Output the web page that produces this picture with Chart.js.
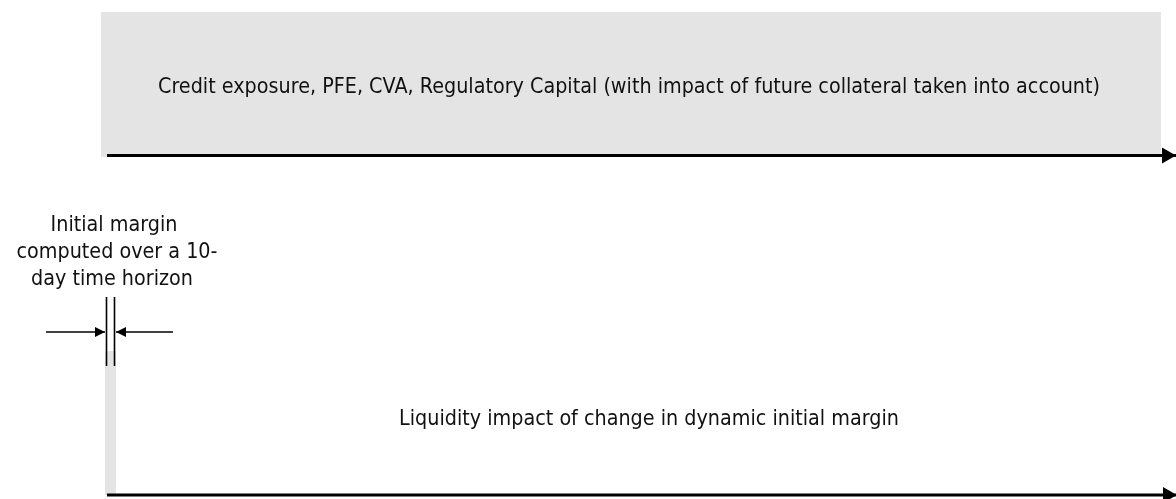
<!DOCTYPE html>
<html>
<head>
<meta charset="utf-8">
<script src="https://cdn.jsdelivr.net/npm/chart.js@4.4.1/dist/chart.umd.min.js"></script>
<style>
  html, body { margin: 0; padding: 0; background: #fff; }
  #wrap { width: 1176px; height: 499px; }
</style>
</head>
<body>
<div id="wrap"><canvas id="diagram" width="1176" height="499"></canvas></div>
<script>
// ---------------------------------------------------------------
// diagram values (x = horizontal units, y = vertical units, 1:1 with the plot)
// ---------------------------------------------------------------
const boxNames  = ['exposure band', 'initial margin band'];
const boxX0     = [101, 105];
const boxX1     = [1161, 116];
const boxY0     = [12, 351];
const boxY1     = [157, 495];

// arrows / lines: [from, to]
const lineNames = ['exposure axis', 'liquidity axis', 'horizon start', 'horizon end', 'left pointer', 'right pointer'];
const lineX0    = [107, 107, 106.5, 114.5, 46, 173];
const lineX1    = [1176, 1177, 106.5, 114.5, 105, 116];
const lineY0    = [155.5, 495, 297, 297, 332, 332];
const lineY1    = [155.5, 495, 366, 366, 332, 332];
const lineHeads = [true, true, false, false, true, true];

const labelTexts = [
    'Credit exposure, PFE, CVA, Regulatory Capital (with impact of future collateral taken into account)',
    'Initial margin',
    'computed over a 10-',
    'day time horizon',
    'Liquidity impact of change in dynamic initial margin'
];
const labelX = [629, 114, 117, 112, 649];
const labelY = [93, 231, 258, 285, 425];

// ---------------------------------------------------------------
// styles
// ---------------------------------------------------------------
const FONT = '22px "DejaVu Sans", sans-serif';
const TOP_LABEL_WIDTH = 942;
const BOX_COLOR = '#e4e4e4';

const datasets = lineNames.map((name, i) => {
    const thick = i < 2;
    return {
        label: name,
        data: [{ x: lineX0[i], y: lineY0[i] }, { x: lineX1[i], y: lineY1[i] }],
        borderColor: '#000',
        borderWidth: thick ? 3.2 : 1.6,
        pointRadius: 0,
        fill: false,
        tension: 0,
        clip: false,
        arrowHead: lineHeads[i],
        headLength: thick ? 14 : 10,
        headHalf: thick ? 8 : 5
    };
});

const boxPlugin = {
    id: 'boxes',
    beforeDatasetsDraw(chart) {
        const { ctx, scales: { x, y } } = chart;
        ctx.save();
        ctx.fillStyle = BOX_COLOR;
        boxNames.forEach((n, i) => {
            const px0 = x.getPixelForValue(boxX0[i]);
            const px1 = x.getPixelForValue(boxX1[i]);
            const py0 = y.getPixelForValue(boxY0[i]);
            const py1 = y.getPixelForValue(boxY1[i]);
            ctx.fillRect(px0, py0, px1 - px0, py1 - py0);
        });
        ctx.restore();
    }
};

const arrowPlugin = {
    id: 'arrows',
    afterDatasetsDraw(chart) {
        const ctx = chart.ctx;
        ctx.save();
        ctx.fillStyle = '#000';
        chart.data.datasets.forEach((ds, i) => {
            if (!ds.arrowHead) return;
            const pts = chart.getDatasetMeta(i).data;
            const a = pts[0], b = pts[pts.length - 1];
            const ang = Math.atan2(b.y - a.y, b.x - a.x);
            const L = ds.headLength, H = ds.headHalf;
            ctx.beginPath();
            ctx.moveTo(b.x, b.y);
            ctx.lineTo(b.x - L * Math.cos(ang) - H * Math.sin(ang), b.y - L * Math.sin(ang) + H * Math.cos(ang));
            ctx.lineTo(b.x - L * Math.cos(ang) + H * Math.sin(ang), b.y - L * Math.sin(ang) - H * Math.cos(ang));
            ctx.closePath();
            ctx.fill();
        });
        ctx.restore();
    }
};

const labelPlugin = {
    id: 'labels',
    afterDraw(chart) {
        const { ctx, scales: { x, y } } = chart;
        ctx.save();
        ctx.font = FONT;
        ctx.fillStyle = '#111';
        ctx.textAlign = 'center';
        ctx.textBaseline = 'alphabetic';
        // same horizontal squeeze for every label, taken from the wide top label
        const sx = TOP_LABEL_WIDTH / ctx.measureText(labelTexts[0]).width;
        labelTexts.forEach((t, i) => {
            const px = x.getPixelForValue(labelX[i]);
            const py = y.getPixelForValue(labelY[i]);
            ctx.save();
            ctx.translate(px, py);
            ctx.scale(sx, 1);
            ctx.fillText(t, 0, 0);
            ctx.restore();
        });
        ctx.restore();
    }
};

new Chart(document.getElementById('diagram'), {
    type: 'line',
    data: { datasets },
    options: {
        responsive: false,
        animation: false,
        events: [],
        layout: { padding: 0 },
        plugins: { legend: { display: false }, tooltip: { enabled: false } },
        scales: {
            x: { type: 'linear', min: 0, max: 1176, display: false },
            y: { type: 'linear', min: 0, max: 499, reverse: true, display: false }
        }
    },
    plugins: [boxPlugin, arrowPlugin, labelPlugin]
});
</script>
</body>
</html>
